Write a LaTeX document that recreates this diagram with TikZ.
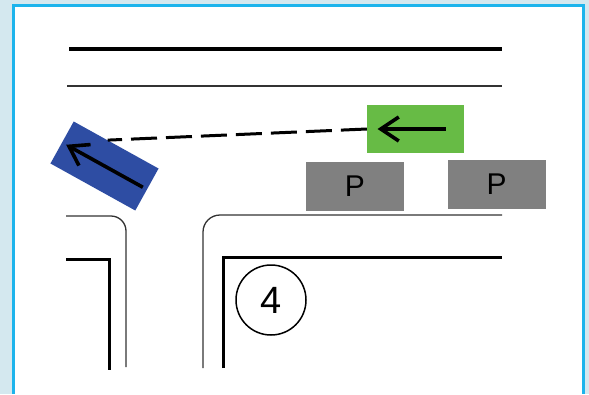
\documentclass[tikz,border=0pt]{standalone}
\usepackage{fontspec}
\setmainfont{Liberation Sans}
\usetikzlibrary{arrows.meta,calc}

\definecolor{skyback}{HTML}{D4E8EF}
\definecolor{framecyan}{HTML}{1DB4EC}
\definecolor{carblue}{HTML}{2E4DA3}
\definecolor{cargreen}{HTML}{67BB45}
\definecolor{parkgray}{HTML}{808080}

\tikzset{
  car/.style={minimum width=97pt, minimum height=48pt, inner sep=0pt},
  carrow/.style={draw=black, line width=3.6pt, -{Straight Barb[length=18pt,width=24pt]}},
  kerb/.style={draw=black!80, line width=1.3pt},
  wall/.style={draw=black, line width=3pt},
}

\begin{document}
\begin{tikzpicture}[x=1pt,y=-1pt]

      \useasboundingbox (0,0) rectangle (589,394);
      \fill[skyback] (0,0) rectangle (589,394);
      \fill[white] (13,5) rectangle (584,394);
      \draw[framecyan, line width=2.5pt] (13.5,394) |- (583.5,5.5) -- (583.5,394);

      % street and corners
      \draw[line width=3.5pt] (69,49) -- (502,49);
      \draw[kerb] (67,86) -- (502,86);
      \draw[kerb, rounded corners=15pt] (66,216) -- (126,216) -- (126,367);
      \draw[kerb, rounded corners=17pt] (203,368) -- (203,215) -- (502,215);
      \draw[wall] (66,259) -- (109,259) -- (109,370);
      \draw[wall] (223,368) -- (223,257) -- (502,257);

      \begin{scope}[every node/.style={car}]
        \node[fill=cargreen] (green) at (415.5,129) {};
        \node[fill=carblue, rotate=-29] (blue) at (104.5,166) {};
      \end{scope}

      \begin{scope}[every node/.style={fill=parkgray, minimum width=98pt, minimum height=49pt,
          font=\fontsize{30}{30}\selectfont}]
        \node (p1) at (355,186.5) {P};
        \node (p2) at (496.5,184.5) {P};
      \end{scope}

      \node[circle, draw, line width=1.5pt, minimum size=70pt, inner sep=0pt,
        font=\fontsize{38}{38}\selectfont] (four) at (271,300) {4};

      \coordinate (hit) at ($(blue.north)!0.2!(blue.north west)$);

      \draw[line width=3pt, dash pattern=on 26pt off 9pt] (green.west) -- (hit);
      \draw[carrow] ($(green.east)!0.19!(green.west)$) -- ($(green.east)!0.89!(green.west)$);
      \draw[carrow] ($(blue.east)!0.05!(blue.west)$) -- ($(blue.east)!0.95!(blue.west)$);

    \end{tikzpicture}
\end{document}
